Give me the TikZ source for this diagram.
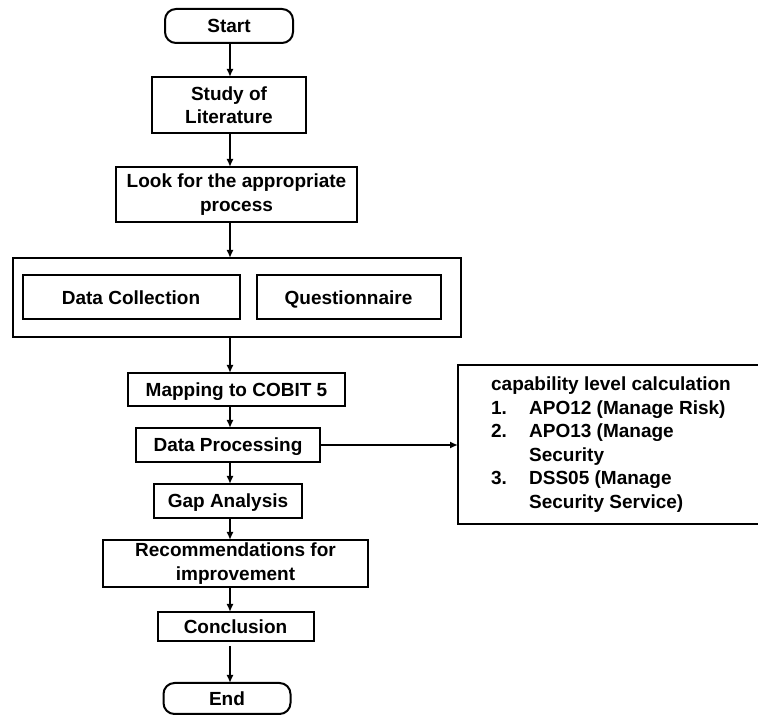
\documentclass[tikz,border=0pt]{standalone}
\usepackage{fontspec}
\setmainfont{Liberation Sans}
\usetikzlibrary{arrows.meta}
\usetikzlibrary{positioning}

\begin{document}
\begin{tikzpicture}[x=1pt,y=1pt]
      \tikzset{
        >={Latex[length=8pt,width=7pt]},
        font=\fontsize{19}{23.5}\selectfont\bfseries,
        box/.style={draw, line width=2pt, outer sep=0pt, align=center, inner sep=2pt},
        single/.style={box, text height=13.6pt, text depth=0pt},
        term/.style={single, rounded corners=11pt},
        flow/.style={draw, ->, line width=2pt},
      }
      \useasboundingbox (0,0) rectangle (758,715);
      \coordinate (axis) at (230,0);

      \node[term, minimum width=128pt, minimum height=34pt] (start) at (229,689) {Start};
      \node[box, minimum width=154pt, minimum height=56pt, below=34pt of start] (study) {Study of\\Literature};
      \node[box, minimum width=241pt, minimum height=55pt, below=34pt of study, xshift=7.5pt] (look) {Look for the appropriate\\process};
      \node[box, minimum width=448pt, minimum height=79pt, below=36pt of look] (grp) {};
      \node[single, minimum width=217pt, minimum height=44pt, right=10pt of grp.west] (dc) {Data Collection};
      \node[single, minimum width=184pt, minimum height=44pt, right=17pt of dc] (qn) {Questionnaire};
      \node[single, minimum width=217pt, minimum height=33pt, below=36pt of grp] (map) {Mapping to COBIT 5};
      \node[single, minimum width=184pt, minimum height=34pt, below=22pt of map, xshift=-8.5pt] (dp) {Data Processing};
      \node[single, minimum width=148pt, minimum height=34pt, below=22pt of dp] (gap) {Gap Analysis};
      \node[box, minimum width=265pt, minimum height=47pt, below=22pt of gap, xshift=7.5pt] (rec) {Recommendations for\\improvement};
      \node[single, minimum width=156pt, minimum height=29pt, below=25pt of rec] (concl) {Conclusion};
      \node[term, minimum width=127pt, minimum height=31pt, below=42pt of concl, xshift=-8.5pt] (stop) {End};
      % capability levels
      \node[box, minimum width=306pt, minimum height=159pt, right=138pt of dp] (calc) {%
        \begin{tabular}{@{}p{38pt}@{}l@{}}
          \multicolumn{2}{@{}c@{}}{capability level calculation}\\
          1. & APO12 (Manage Risk)\\
          2. & APO13 (Manage\\
             & Security\\
          3. & DSS05 (Manage\\
             & Security Service)
        \end{tabular}};

      \path
        (start.south -| axis) edge[flow] (study.north -| axis)
        (study.south -| axis) edge[flow] (look.north -| axis)
        (look.south -| axis) edge[flow] (grp.north -| axis)
        (grp.south -| axis) edge[flow] (map.north -| axis)
        (map.south -| axis) edge[flow] (dp.north -| axis)
        (dp.south -| axis) edge[flow] (gap.north -| axis)
        (gap.south -| axis) edge[flow] (rec.north -| axis)
        (rec.south -| axis) edge[flow] (concl.north -| axis)
        ([yshift=-5pt]concl.south -| axis) edge[flow] (stop.north -| axis)
        (dp) edge[flow] (calc);
    \end{tikzpicture}
\end{document}
